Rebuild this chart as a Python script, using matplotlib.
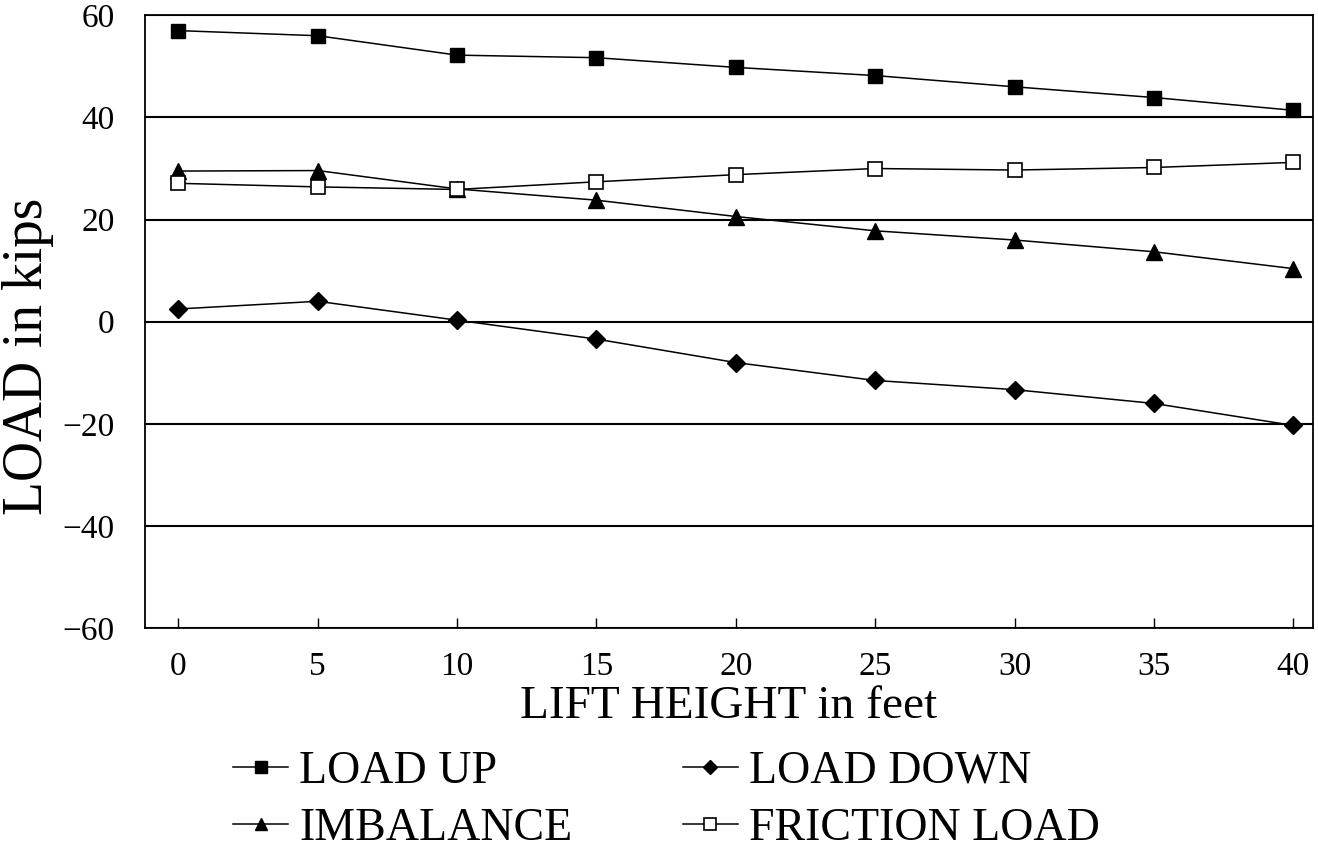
import matplotlib.pyplot as plt
from matplotlib.ticker import MultipleLocator

plt.rcParams['font.family'] = ['Liberation Serif', 'DejaVu Serif']

lift_height = [0, 5, 10, 15, 20, 25, 30, 35, 40]
load_up = [57, 56, 52.2, 51.7, 49.8, 48.2, 46, 43.9, 41.4]
imbalance = [29.5, 29.6, 26, 23.8, 20.6, 17.8, 16, 13.7, 10.4]
friction_load = [27.1, 26.4, 25.9, 27.4, 28.8, 30, 29.7, 30.2, 31.2]
load_down = [2.5, 4, 0.3, -3.4, -8, -11.5, -13.3, -16, -20.3]

fig = plt.figure(figsize=(13.18, 8.5), dpi=100)
ax = fig.add_axes([0.110, 0.261, 0.886, 0.721])

lw = 1.1
ax.plot(lift_height, load_up, color='black', lw=lw, marker='s', ms=10, label='LOAD UP')
ax.plot(lift_height, imbalance, color='black', lw=lw, marker='^', ms=11, label='IMBALANCE')
ax.plot(lift_height, load_down, color='black', lw=lw, marker='D', ms=9, label='LOAD DOWN')
ax.plot(lift_height, friction_load, color='black', lw=lw, marker='s', ms=10,
        mfc='white', mec='black', mew=1.2, label='FRICTION LOAD')

ax.set_xlim(-1.2, 40.7)
ax.set_ylim(-60, 60)
ax.yaxis.set_major_locator(MultipleLocator(20))
ax.xaxis.set_major_locator(MultipleLocator(5))
ax.grid(axis='y', color='black', lw=1.5)
ax.set_axisbelow(True)

for s in ax.spines.values():
    s.set_linewidth(1.3)

ax.tick_params(axis='y', length=0, pad=22, labelsize=24)
ax.tick_params(axis='x', direction='in', length=7, width=1, pad=17, labelsize=24)

ax.set_xlabel('LIFT HEIGHT in feet', fontsize=34, labelpad=2)
ax.set_ylabel('LOAD in kips', fontsize=40)
ax.yaxis.set_label_coords(-0.078, 0.444)

handles, labels = ax.get_legend_handles_labels()
leg = fig.legend(handles, labels, ncol=2, loc='upper left', bbox_to_anchor=(0.1455, 0.166),
                 frameon=False, fontsize=33, handlelength=1.2, handletextpad=0.25,
                 columnspacing=2.4, labelspacing=0.33, markerscale=0.8)

fig.savefig('out.png', dpi=100)
